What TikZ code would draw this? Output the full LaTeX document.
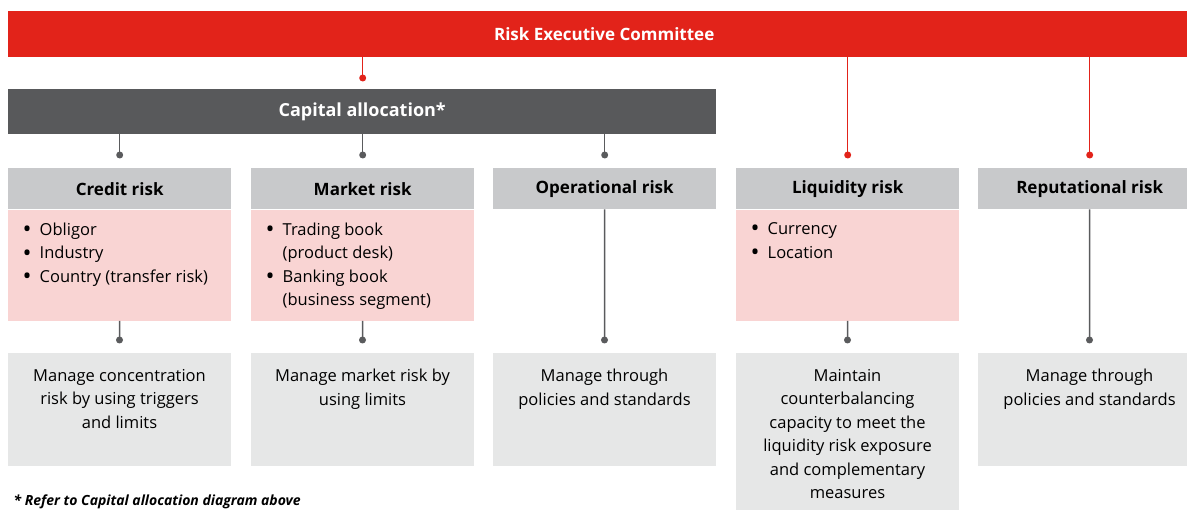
\documentclass[tikz,border=0pt]{standalone}
\usepackage{fontspec}
\setmainfont{Open Sans}
\usetikzlibrary{positioning}

\definecolor{ubsred}{HTML}{E2231A}
\definecolor{capgray}{HTML}{58595B}
\definecolor{headgray}{HTML}{C8C9CB}
\definecolor{pinkfill}{HTML}{F9D4D3}
\definecolor{actfill}{HTML}{E6E7E7}
\definecolor{linkgray}{HTML}{5A5B5D}

% top aligned text inside the boxes
\newcommand\dettext[1]{\parbox[c][111pt][t]{194pt}{\raggedright\vspace*{13pt}#1}}
\newcommand\acttext[2][113pt]{\parbox[c][#1][t]{220pt}{\centering\vspace*{16pt}#2}}
\newcommand\blt{\makebox[17pt][l]{\raisebox{-2.4pt}{\scalebox{1.45}{\textbullet}}}}
\newcommand\cont{\hspace*{17pt}}

\begin{document}
\begin{tikzpicture}[x=1pt, y=-1pt,
    font=\fontsize{16.5}{23.5}\selectfont,
    redbar/.style={fill=ubsred, text=white, anchor=north west, minimum width=1192, minimum height=46, font=\fontsize{17}{22}\selectfont\bfseries},
    capbar/.style={fill=capgray, text=white, anchor=north west, minimum width=708, minimum height=45, font=\fontsize{18}{22}\selectfont\bfseries},
    head/.style={fill=headgray, anchor=north west, minimum width=223, minimum height=41, font=\fontsize{17}{22}\selectfont\bfseries},
    detail/.style={fill=pinkfill, anchor=north, minimum width=223, inner sep=0},
    action/.style={fill=actfill, anchor=north, minimum width=223, inner sep=0},
    link/.style={draw=linkgray, line width=1.5},
    redlink/.style={draw=ubsred, line width=1.5},
    note/.style={anchor=base west, font=\fontsize{14}{18}\selectfont\bfseries\itshape}]

\useasboundingbox (0,0) rectangle (1187,510);

% committee and capital allocation
\node[redbar] (rec) at (8,11) {Risk Executive Committee};
\node[capbar] (cap) at (8,89) {Capital allocation*};

% risk types
\node[head] (credit) at (8,168)   {Credit risk};
\node[head] (market) at (251,168) {Market risk};
\node[head] (oper)   at (493,168) {Operational risk};
\node[head] (liq)    at (736,168) {Liquidity risk};
\node[head] (rep)    at (978,168) {Reputational risk};

% breakdowns
\node[detail] (creditdet) at (credit.south) {\dettext{\blt Obligor\\ \blt Industry\\ \blt Country (transfer risk)}};
\node[detail] (marketdet) at (market.south) {\dettext{\blt Trading book\\ \cont(product desk)\\ \blt Banking book\\ \cont(business segment)}};
\node[detail] (liqdet)    at (liq.south)    {\dettext{\blt Currency\\ \blt Location}};

% how they are managed
\node[action] (creditact) at (119.5,353) {\acttext{Manage concentration\\ risk by using triggers\\ and limits}};
\node[action] (marketact) at (362.5,353) {\acttext{Manage market risk by\\ using limits}};
\node[action] (operact)   at (604.5,353) {\acttext{Manage through\\ policies and standards}};
\node[action] (liqact)    at (847.5,353) {\acttext[175pt]{Maintain\\ counterbalancing\\ capacity to meet the\\ liquidity risk exposure\\ and complementary\\ measures}};
\node[action] (repact)    at (1089.5,353) {\acttext{Manage through\\ policies and standards}};

% connector ends
\coordinate[above=11pt of cap.north -| market] (capdot);
\coordinate[above=13pt of liq.north] (liqdot);
\coordinate[above=13pt of rep.north] (repdot);
\coordinate[above=13pt of credit.north] (creditdot);
\coordinate[above=13pt of market.north] (marketdot);
\coordinate[above=13pt of oper.north] (operdot);
\coordinate[above=13pt of creditact.north] (creditactdot);
\coordinate[above=13pt of marketact.north] (marketactdot);
\coordinate[above=13pt of operact.north] (operactdot);
\coordinate[above=13pt of liqact.north] (liqactdot);
\coordinate[above=13pt of repact.north] (repactdot);

% red connectors
\draw[redlink] (rec.south -| capdot) -- (capdot);
\draw[redlink] (rec.south -| liqdot) -- (liqdot);
\draw[redlink] (rec.south -| repdot) -- (repdot);
\fill[ubsred] (capdot) circle (3.5) (liqdot) circle (3.5) (repdot) circle (3.5);

% gray connectors
\draw[link] (cap.south -| creditdot) -- (creditdot);
\draw[link] (cap.south -| marketdot) -- (marketdot);
\draw[link] (cap.south -| operdot) -- (operdot);
\draw[link] (creditdet) -- (creditactdot);
\draw[link] (marketdet) -- (marketactdot);
\draw[link] (oper) -- (operactdot);
\draw[link] (liqdet) -- (liqactdot);
\draw[link] (rep) -- (repactdot);
\fill[linkgray] (creditdot) circle (3.5) (marketdot) circle (3.5) (operdot) circle (3.5)
  (creditactdot) circle (3.5) (marketactdot) circle (3.5) (operactdot) circle (3.5)
  (liqactdot) circle (3.5) (repactdot) circle (3.5);

\node[note] (fn) at (10,506) {* Refer to Capital allocation diagram above};
\end{tikzpicture}
\end{document}
